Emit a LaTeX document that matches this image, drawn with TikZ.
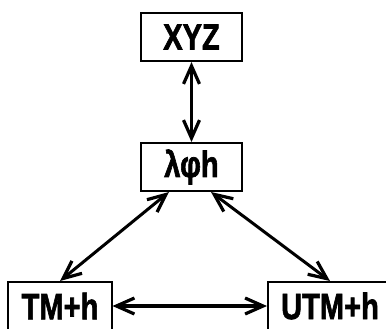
\documentclass[tikz,border=0pt]{standalone}
\usepackage{fontspec}
\setmainfont{Liberation Sans}
\newfontfamily\heavyfont{Liberation Sans}[FakeBold=2]
\usetikzlibrary{arrows.meta}
\newcommand{\boxtxt}[1]{\scalebox{0.97}[1.22]{#1}}
\begin{document}
\begin{tikzpicture}[x=1bp,y=-1bp,
  box/.style={draw, line width=2bp, minimum height=48bp, inner sep=0pt,
    font=\fontsize{30bp}{30bp}\heavyfont\bfseries},
  tip/.tip={Straight Barb[length=18bp,width=16bp,line width=3.2bp]},
  arr/.style={line width=3bp, tip-tip}]
\useasboundingbox (0,0) rectangle (386,329);
\node[box, minimum width=101bp] (xyz) at (191.5,37) {\boxtxt{XYZ}};
\node[box, minimum width=101bp] (lph) at (191.5,167) {\boxtxt{λφh}};
\node[box, minimum width=103bp] (tm) at (60,306) {\boxtxt{TM+h}};
\node[box, minimum width=124bp] (utm) at (330,306) {\boxtxt{UTM+h}};
\draw[arr, line width=3.8bp] (xyz.south) -- (lph.north);
\draw[arr] ([xshift=29bp]lph.south west) -- (tm.north);
\draw[arr] ([xshift=-32bp]lph.south east) -- (utm.north);
\draw[arr, line width=3.4bp] (tm.east) -- (utm.west);
\end{tikzpicture}
\end{document}
